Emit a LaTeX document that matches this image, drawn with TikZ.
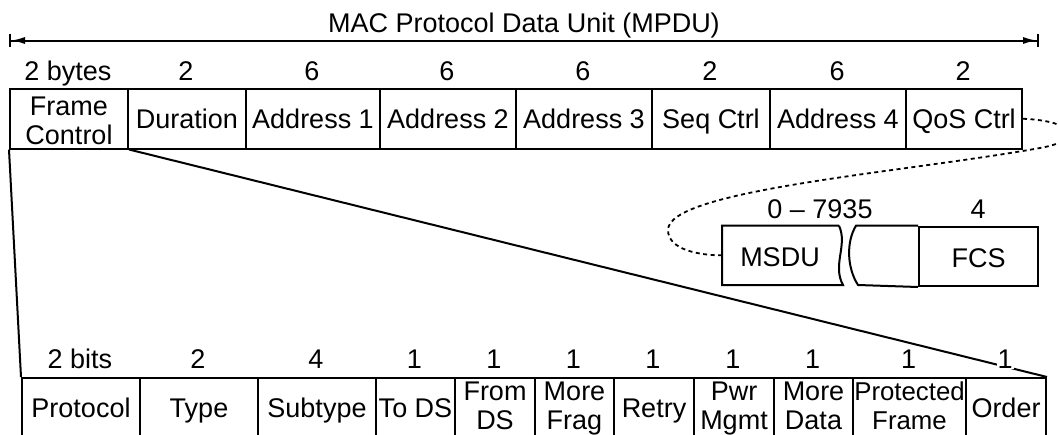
\documentclass[tikz,border=0pt]{standalone}
\usepackage{fontspec}
\setmainfont{Liberation Sans}
\usetikzlibrary{arrows.meta}
% two centred lines whose baseline is the baseline of the second line
\newcommand{\twolines}[2]{\begin{tabular}[b]{@{}c@{}}#1\\#2\end{tabular}}
\begin{document}
\begin{tikzpicture}[x=1pt,y=-1pt,line width=2pt,
  txt/.style={font=\fontsize{27}{28.5}\selectfont,inner sep=0pt},
  cell/.style={txt,draw,anchor=north west,minimum width=#1},
  oneT/.style={text height=39.7pt,text depth=19.8pt},
  twoT/.style={text height=55pt,text depth=4.5pt},
  oneB/.style={text height=39pt,text depth=41pt},
  twoB/.style={text height=51pt,text depth=29pt},
  oneM/.style={text height=41pt,text depth=18.3pt},
  lab/.style={txt,anchor=base,fill=white,inner sep=1pt},
  span/.style={{Bar[width=13pt]Latex[length=14pt,width=7pt]}-{Latex[length=14pt,width=7pt]Bar[width=13pt]}},
  dots/.style={line width=1.8pt,dash pattern=on 4pt off 3.5pt}]
\useasboundingbox (0,0) rectangle (1058,434);
\clip (0,0) rectangle (1058,434);

% MPDU extent
\coordinate (mpduL) at (9,40.5);
\coordinate (mpduR) at (1039,40.5);
\draw[span] (mpduL) -- (mpduR);
\node[txt,anchor=base] (title) at (524,32) {MAC Protocol Data Unit (MPDU)};

% MPDU header fields
\node[cell=118pt,twoT] (fc)  at (9,88)   {\twolines{Frame}{Control}};
\node[cell=118pt,oneT] (dur) at (127,88) {Duration};
\node[cell=134pt,oneT] (a1)  at (245,88) {Address 1};
\node[cell=136pt,oneT] (a2)  at (379,88) {Address 2};
\node[cell=136pt,oneT] (a3)  at (515,88) {Address 3};
\node[cell=118pt,oneT] (seq) at (651,88) {Seq Ctrl};
\node[cell=136pt,oneT] (a4)  at (769,88) {Address 4};
\node[cell=116pt,oneT] (qos) at (905,88) {QoS Ctrl};

% field sizes in bytes
\node[lab] (sfc)  at (68,80)  {2 bytes};
\node[lab] (sdur) at (186,80) {2};
\node[lab] (sa1)  at (312,80) {6};
\node[lab] (sa2)  at (447,80) {6};
\node[lab] (sa3)  at (583,80) {6};
\node[lab] (sseq) at (710,80) {2};
\node[lab] (sa4)  at (837,80) {6};
\node[lab] (sqos) at (963,80) {2};

% frame body and checksum
\coordinate (msduin) at (722,255.35);
\draw (839,225.7) -- (722,225.7) -- (722,285) -- (843,285)
      .. controls (832,265) and (848,245) .. (839,225.7);
\node[cell=119pt,oneM] (fcs) at (918,225.7) {FCS};
\draw (fcs.north west) -- (856,225.7) .. controls (846,242) and (847,268) .. (858,285) -- (fcs.south west);
\node[txt,anchor=base] (msdu) at (780,266.7) {MSDU};
\node[lab] (smsdu) at (820,218) {0 -- 7935};
\node[lab] (sfcs)  at (978,218) {4};

% the frame body follows the header
\draw[dots] (qos.east) .. controls (1075,121) and (1085,140) .. (1040,148)
      .. controls (900,173) and (668,190) .. (668,230)
      .. controls (668,250) and (700,255.35) .. (msduin);

% Frame Control subfields
\node[cell=118pt,oneB] (pro)    at (21,377)  {Protocol};
\node[cell=118pt,oneB] (typ)    at (139,377) {Type};
\node[cell=118pt,oneB] (sub)    at (257,377) {Subtype};
\node[cell=79pt,oneB]  (tods)   at (375,377) {To DS};
\node[cell=80pt,twoB]  (fromds) at (454,377) {\twolines{From}{DS}};
\node[cell=79pt,twoB]  (mfrag)  at (534,377) {\twolines{More}{Frag}};
\node[cell=80pt,oneB]  (retry)  at (613,377) {Retry};
\node[cell=80pt,twoB]  (pwr)    at (693,377) {\twolines{Pwr}{Mgmt}};
\node[cell=79pt,twoB]  (mdata)  at (773,377) {\twolines{More}{Data}};
\node[cell=113pt,twoB,font=\fontsize{25.8}{28.5}\selectfont] (prot) at (852,377)
      {\makebox[0pt]{\twolines{Protected}{Frame}}};
\node[cell=80pt,oneB]  (ord)    at (965,377) {Order};

% expansion of Frame Control
\draw (fc.south west) -- (pro.north west);
\draw (fc.south east) -- (ord.north east);

% subfield sizes in bits
\node[lab] (spro)   at (80,368)    {2 bits};
\node[lab] (styp)   at (198,368)   {2};
\node[lab] (ssub)   at (316,368)   {4};
\node[lab] (stods)  at (414.5,368) {1};
\node[lab] (sfrom)  at (494,368)   {1};
\node[lab] (smfrag) at (573.5,368) {1};
\node[lab] (sretry) at (653,368)   {1};
\node[lab] (spwr)   at (733,368)   {1};
\node[lab] (smdata) at (812.5,368) {1};
\node[lab] (sprot)  at (908.5,368) {1};
\node[lab] (sord)   at (1005,368)  {1};
\end{tikzpicture}
\end{document}
